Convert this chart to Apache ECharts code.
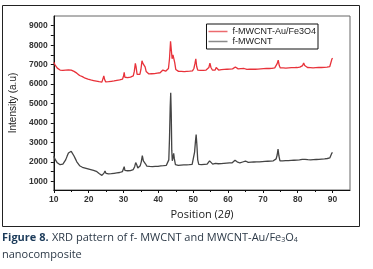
<!DOCTYPE html>
<html><head><meta charset="utf-8">
<script src="https://cdn.jsdelivr.net/npm/echarts@6/dist/echarts.min.js"></script>
<style>html,body{margin:0;padding:0;background:#fff}#c{width:373px;height:269px}</style>
</head><body><div id="c"></div>
<script>
var seriesNames = ['f-MWCNT-Au/Fe3O4', 'f-MWCNT'];
var xTicks = [10, 20, 30, 40, 50, 60, 70, 80, 90];
var yTicks = [1000, 2000, 3000, 4000, 5000, 6000, 7000, 8000, 9000];
var yMinorTicks = [1500, 2500, 3500, 4500, 5500, 6500, 7500, 8500];
var compositeData = [[10,7120],[10.3,7000],[10.6,6900],[11,6820],[11.4,6760],[11.8,6720],[12.2,6680],[12.6,6700],[13,6660],[13.4,6720],[13.8,6680],[14.2,6730],[14.6,6690],[15,6720],[15.4,6680],[15.8,6650],[16.2,6600],[16.6,6560],[17,6480],[17.4,6440],[17.8,6400],[18.2,6380],[18.6,6320],[19,6300],[19.4,6280],[19.8,6250],[20.2,6260],[20.6,6210],[21,6230],[21.4,6180],[21.8,6190],[22.2,6150],[22.6,6170],[23,6120],[23.4,6140],[23.8,6100],[24.1,6200],[24.35,6420],[24.6,6220],[24.9,6110],[25.3,6140],[25.7,6120],[26.1,6160],[26.5,6140],[26.9,6180],[27.3,6160],[27.7,6200],[28.1,6190],[28.5,6230],[28.9,6210],[29.3,6260],[29.7,6250],[30,6400],[30.2,6600],[30.4,6350],[30.8,6300],[31.2,6330],[31.6,6310],[32,6360],[32.4,6340],[32.8,6420],[33.1,6650],[33.4,7060],[33.6,6900],[33.9,6500],[34.3,6420],[34.7,6500],[35,6750],[35.3,7200],[35.6,7050],[35.9,6950],[36.2,6880],[36.5,6650],[36.9,6560],[37.3,6520],[37.7,6560],[38.1,6530],[38.5,6570],[38.9,6540],[39.3,6580],[39.7,6560],[40.1,6600],[40.5,6580],[40.9,6650],[41.3,6720],[41.7,6630],[42.1,6660],[42.5,6700],[42.9,6800],[43.2,7300],[43.5,8200],[43.75,7700],[43.95,7300],[44.2,7500],[44.4,7600],[44.7,7100],[45,6750],[45.4,6680],[45.8,6650],[46.2,6690],[46.6,6650],[47,6680],[47.4,6640],[47.8,6680],[48.2,6650],[48.6,6700],[49,6660],[49.4,6690],[49.8,6680],[50.2,6800],[50.5,7050],[50.75,7300],[51,6900],[51.3,6720],[51.7,6650],[52.1,6700],[52.5,6660],[52.9,6700],[53.3,6680],[53.7,6720],[54.1,6700],[54.5,6850],[54.8,7080],[55.1,6850],[55.5,6720],[55.9,6760],[56.3,6720],[56.6,6850],[56.9,6760],[57.3,6720],[57.7,6700],[58.1,6740],[58.5,6710],[58.9,6750],[59.3,6720],[59.7,6760],[60.1,6730],[60.5,6770],[60.9,6740],[61.3,6780],[61.7,6800],[62.1,6880],[62.5,6800],[62.9,6780],[63.3,6820],[63.7,6790],[64.2,6850],[64.6,6800],[65,6780],[65.4,6750],[65.8,6790],[66.2,6760],[66.6,6800],[67,6770],[67.4,6790],[67.8,6760],[68.2,6800],[68.6,6770],[69,6810],[69.4,6780],[69.8,6820],[70.2,6790],[70.6,6820],[71,6800],[71.4,6830],[71.8,6800],[72.2,6840],[72.6,6810],[73,6850],[73.4,6830],[73.8,6900],[74.1,7050],[74.4,7230],[74.7,6950],[75,6830],[75.4,6800],[75.8,6830],[76.2,6790],[76.6,6820],[77,6800],[77.4,6830],[77.8,6800],[78.2,6840],[78.6,6810],[79,6840],[79.4,6820],[79.8,6850],[80.2,6830],[80.6,6870],[81,6880],[81.4,6950],[81.7,7080],[82,6950],[82.4,6880],[82.8,6850],[83.2,6870],[83.6,6840],[84,6860],[84.4,6830],[84.8,6870],[85.2,6840],[85.6,6880],[86,6850],[86.4,6880],[86.8,6850],[87.2,6890],[87.6,6860],[88,6900],[88.4,6870],[88.8,6910],[89.2,6900],[89.5,7000],[89.8,7280],[90,7330]];
var mwcntData = [[10,2280],[10.3,2150],[10.6,2050],[11,1950],[11.4,1880],[11.8,1850],[12.2,1830],[12.6,1880],[13,1980],[13.4,2100],[13.8,2280],[14.2,2450],[14.6,2550],[15,2540],[15.4,2450],[15.8,2300],[16.2,2150],[16.6,2000],[17,1900],[17.4,1800],[17.8,1760],[18.2,1720],[18.6,1700],[19,1680],[19.4,1660],[19.8,1640],[20.2,1630],[20.6,1600],[21,1580],[21.4,1560],[21.8,1540],[22.2,1510],[22.6,1450],[23,1400],[23.4,1350],[23.8,1300],[24.1,1330],[24.4,1420],[24.7,1530],[25,1400],[25.3,1360],[25.7,1380],[26.1,1400],[26.5,1390],[26.9,1420],[27.3,1410],[27.7,1440],[28.1,1430],[28.5,1460],[28.9,1450],[29.3,1480],[29.7,1500],[30,1600],[30.2,1750],[30.4,1560],[30.8,1520],[31.2,1540],[31.6,1530],[32,1550],[32.4,1560],[32.8,1600],[33.2,1750],[33.5,1960],[33.8,1850],[34.1,1680],[34.5,1650],[34.8,1800],[35.1,2000],[35.4,2320],[35.7,2050],[36,2010],[36.3,1900],[36.7,1780],[37.1,1740],[37.5,1760],[37.9,1730],[38.3,1750],[38.7,1720],[39.1,1760],[39.5,1740],[39.9,1770],[40.3,1750],[40.7,1790],[41.1,1770],[41.5,1800],[41.9,1790],[42.3,1820],[42.7,1850],[43,2100],[43.2,3200],[43.4,4800],[43.55,5550],[43.7,4500],[43.85,2600],[44,2050],[44.2,2200],[44.4,2430],[44.6,2150],[44.9,1850],[45.3,1800],[45.7,1820],[46.1,1790],[46.5,1830],[46.9,1800],[47.3,1840],[47.7,1810],[48.1,1840],[48.5,1820],[48.9,1850],[49.3,1830],[49.7,1870],[50.1,1950],[50.4,2500],[50.65,3050],[50.85,3400],[51.05,2900],[51.3,2100],[51.6,1870],[52,1840],[52.4,1860],[52.8,1830],[53.2,1870],[53.6,1850],[54,1880],[54.4,1920],[54.7,2050],[54.9,2110],[55.2,1950],[55.6,1880],[56,1900],[56.4,1920],[56.8,2000],[57.2,1900],[57.6,1880],[58,1910],[58.4,1890],[58.8,1920],[59.2,1900],[59.6,1930],[60,1910],[60.4,1940],[60.8,1920],[61.2,1950],[61.6,1990],[62,2080],[62.3,2130],[62.6,2000],[63,1960],[63.4,1940],[63.8,1980],[64.2,1990],[64.6,2060],[65,2040],[65.4,1990],[65.8,1970],[66.2,2000],[66.6,1980],[67,2010],[67.4,1990],[67.8,2020],[68.2,2000],[68.6,2030],[69,2000],[69.4,2040],[69.8,2010],[70.2,2040],[70.6,2020],[71,2050],[71.4,2030],[71.8,2060],[72.2,2040],[72.6,2070],[73,2050],[73.4,2080],[73.8,2150],[74.1,2350],[74.35,2660],[74.6,2300],[74.9,2050],[75.3,2020],[75.7,2050],[76.1,2020],[76.5,2060],[76.9,2030],[77.3,2060],[77.7,2040],[78.1,2070],[78.5,2050],[78.9,2080],[79.3,2060],[79.7,2090],[80.1,2070],[80.5,2100],[80.9,2090],[81.3,2130],[81.7,2160],[82.1,2130],[82.5,2090],[82.9,2110],[83.3,2080],[83.7,2100],[84.1,2080],[84.5,2110],[84.9,2090],[85.3,2120],[85.7,2100],[86.1,2130],[86.5,2110],[86.9,2140],[87.3,2120],[87.7,2150],[88.1,2130],[88.5,2170],[88.9,2160],[89.2,2200],[89.5,2300],[89.8,2450],[90,2480]];

var chart = echarts.init(document.getElementById('c'), null, {renderer: 'canvas'});
var tickFont = {fontFamily: 'Liberation Sans, Arial, sans-serif', fontSize: 8.5, fontWeight: 'bold', color: '#333'};
chart.setOption({
  animation: false,
  backgroundColor: '#fff',
  grid: {left: 53, top: 16, right: 23, bottom: 79, show: true, borderColor: '#666', borderWidth: 1},
  graphic: [
    {type: 'rect', shape: {x: 2.5, y: 5.5, width: 357, height: 221}, style: {fill: 'none', stroke: '#222', lineWidth: 1}, z: 0, silent: true},
    {type: 'text', left: 2, top: 232, style: {
      text: '{b|Figure 8.} {n|XRD pattern of f- MWCNT and MWCNT-Au/Fe}{s|3}{n|O}{s|4}\n{n|nanocomposite}',
      rich: {
        b: {fontFamily: 'Open Sans, sans-serif', fontSize: 11, fontWeight: 'bold', fill: '#1c3b5a', lineHeight: 17},
        n: {fontFamily: 'Open Sans, sans-serif', fontSize: 11, fill: '#2c3947', lineHeight: 17},
        s: {fontFamily: 'Open Sans, sans-serif', fontSize: 7, fill: '#2c3947', lineHeight: 13, padding: [4, 0, 0, 0]}
      }
    }}
  ],
  legend: {
    data: [
      {name: seriesNames[0], itemStyle: {color: '#ec6a6e'}},
      {name: seriesNames[1], itemStyle: {color: '#8a8a8a'}}
    ],
    orient: 'vertical',
    right: 55, top: 24,
    icon: 'rect',
    itemGap: 1, itemWidth: 19, itemHeight: 1.5,
    padding: [3, 2, 3, 2],
    borderColor: '#111', borderWidth: 1, backgroundColor: '#fff',
    textStyle: {fontFamily: 'Liberation Sans, Arial, sans-serif', fontSize: 9, color: '#222', lineHeight: 8}
  },
  xAxis: {
    type: 'value', min: 10, max: 95, interval: 10,
    name: '{a|Position (2}{b|θ}{a|)}', nameLocation: 'middle', nameGap: 14,
    nameTextStyle: {rich: {
      a: {fontFamily: 'Open Sans, sans-serif', fontSize: 11, color: '#222'},
      b: {fontFamily: 'Open Sans, sans-serif', fontSize: 11, fontStyle: 'italic', color: '#222'}
    }},
    axisLine: {lineStyle: {color: '#111', width: 1}},
    axisTick: {show: true, inside: false, length: 3, customValues: xTicks, lineStyle: {color: '#111'}},
    minorTick: {show: true, splitNumber: 2, length: 2, lineStyle: {color: '#111'}},
    axisLabel: Object.assign({margin: 5, customValues: xTicks}, tickFont),
    splitLine: {show: false}
  },
  yAxis: {
    type: 'value', min: 550, max: 9500,
    name: 'Intensity (a.u)', nameLocation: 'middle', nameGap: 30,
    nameTextStyle: {fontFamily: 'Liberation Sans, Arial, sans-serif', fontSize: 10, color: '#222'},
    axisLine: {show: true, lineStyle: {color: '#111', width: 1}},
    axisTick: {show: true, length: 3, customValues: yTicks.concat(yMinorTicks), lineStyle: {color: '#111'}},
    axisLabel: Object.assign({margin: 6, customValues: yTicks, formatter: function (v) { return String(v); }}, tickFont),
    splitLine: {show: false}
  },
  series: [
    {name: seriesNames[0], type: 'line', data: compositeData, symbol: 'none', color: '#e8323a', lineStyle: {width: 1.3, color: '#e8323a'}},
    {name: seriesNames[1], type: 'line', data: mwcntData, symbol: 'none', color: '#444', lineStyle: {width: 1.3, color: '#444'}}
  ]
});
</script></body></html>
